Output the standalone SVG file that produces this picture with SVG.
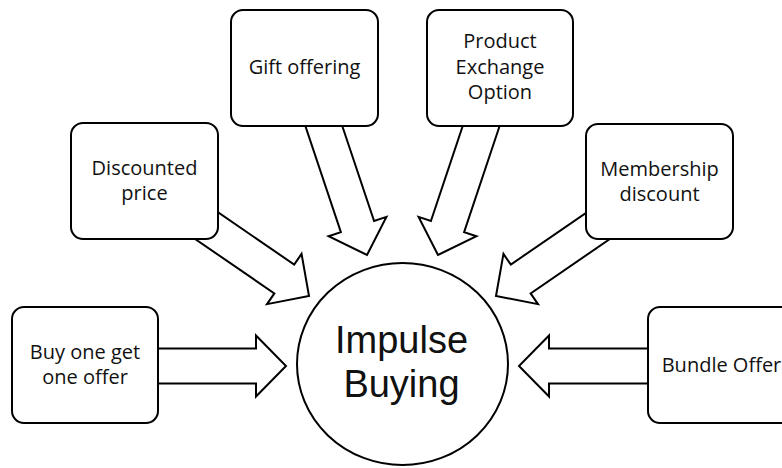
<svg xmlns="http://www.w3.org/2000/svg" width="782" height="468" viewBox="0 0 782 468">
<defs>
<style>
.box{fill:#fff;stroke:#000;stroke-width:2}
.arr{fill:#fff;stroke:#000;stroke-width:2;stroke-linejoin:miter}
.t{font-family:"Open Sans","Liberation Sans",sans-serif;font-size:20px;fill:#111;text-anchor:middle}
.big{font-family:"Liberation Sans","Open Sans",sans-serif;font-size:38px;fill:#111;text-anchor:middle}
</style>
<polygon id="blk" points="-150,-17.5 -30,-17.5 -30,-30.5 0,0 -30,30.5 -30,17.5 -150,17.5"/>
</defs>
<rect width="782" height="468" fill="#fff"/>
<g id="connectors">
<use href="#blk" class="arr" transform="translate(286,366)"/>
<use href="#blk" class="arr" transform="translate(309,296) rotate(34.5)"/>
<use href="#blk" class="arr" transform="translate(367,255) rotate(71.5)"/>
<use href="#blk" class="arr" transform="translate(438,255) rotate(108.5)"/>
<use href="#blk" class="arr" transform="translate(496,296) rotate(145.5)"/>
<use href="#blk" class="arr" transform="translate(519,366) rotate(180)"/>
</g>
<g id="buy-one">
<rect class="box" x="12" y="307" width="146" height="116" rx="12"/>
<text class="t" x="85" y="359">Buy one get</text>
<text class="t" x="85" y="384">one offer</text>
</g>
<g id="discounted">
<rect class="box" x="71" y="123" width="147" height="116" rx="12"/>
<text class="t" x="144.5" y="175">Discounted</text>
<text class="t" x="144.5" y="200">price</text>
</g>
<g id="gift">
<rect class="box" x="231" y="10" width="147" height="116" rx="12"/>
<text class="t" x="304.5" y="74">Gift offering</text>
</g>
<g id="exchange">
<rect class="box" x="427" y="10" width="146" height="116" rx="12"/>
<text class="t" x="500" y="48">Product</text>
<text class="t" x="500" y="74">Exchange</text>
<text class="t" x="500" y="99">Option</text>
</g>
<g id="membership">
<rect class="box" x="586" y="124" width="147" height="115" rx="12"/>
<text class="t" x="659.5" y="176">Membership</text>
<text class="t" x="659.5" y="201">discount</text>
</g>
<g id="bundle">
<rect class="box" x="648" y="307" width="147" height="116" rx="12"/>
<text class="t" x="721.5" y="372">Bundle Offer</text>
</g>
<g id="impulse">
<ellipse class="box" cx="402.5" cy="364" rx="105.5" ry="101"/>
<text class="big" x="401.5" y="353">Impulse</text>
<text class="big" x="401.5" y="397">Buying</text>
</g>
</svg>
